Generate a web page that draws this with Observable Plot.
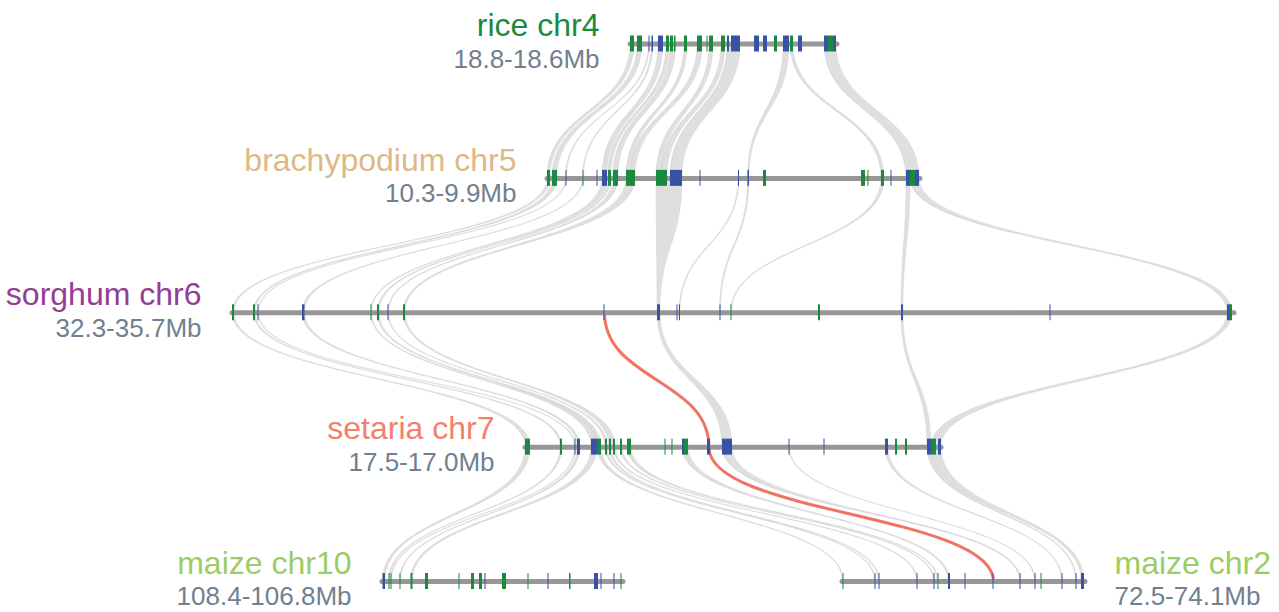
<!DOCTYPE html>
<html><head><meta charset="utf-8">
<script src="https://cdn.jsdelivr.net/npm/d3@7"></script>
<script src="https://cdn.jsdelivr.net/npm/@observablehq/plot@0.6"></script>
<style>body{margin:0;background:#fff;font-family:"Liberation Sans",Arial,sans-serif}</style>
</head><body><div id="chart"></div>
<script>
// Tracks (horizontal layout units, rows top to bottom)
const trackNames  = ["rice chr4","brachypodium chr5","sorghum chr6","setaria chr7","maize chr10","maize chr2"];
const trackRanges = ["18.8-18.6Mb","10.3-9.9Mb","32.3-35.7Mb","17.5-17.0Mb","108.4-106.8Mb","72.5-74.1Mb"];
const trackRow    = [0,1,2,3,4,4];
const trackStart  = [630,547,232,525,382,842];
const trackEnd    = [837,920,1234,941,623,1085];
const trackSide   = ["left","left","left","left","left","right"];
const trackColors = ["#1b8a3e","#deb887","#933d95","#f47f6b","#9bcd62","#9bcd62"];

// Genes per track: [start, end, strand]
const riceGenes = [[630,634,"+"],[637,642,"+"],[648.5,649.5,"-"],[651.5,653,"-"],[658,663,"-"],[666,669,"+"],[670,673,"+"],[674,675.5,"+"],[684,687,"+"],[697,702,"+"],[706.5,707.5,"+"],[709,713,"+"],[721,725,"+"],[727,729,"-"],[731,740,"-"],[754,759,"-"],[763,767,"-"],[774,777,"+"],[783,789,"-"],[790,793,"+"],[798,802,"-"],[824,828,"-"],[828,833,"+"],[833,836,"-"]];
const brachyGenes = [[547,550,"+"],[552,557,"+"],[565.5,566.5,"-"],[582.5,583.5,"+"],[596.5,597.5,"-"],[602,607,"-"],[608,611,"+"],[613,618,"+"],[626,635,"+"],[656,667,"+"],[670,682,"-"],[699.5,700.5,"-"],[738,739,"-"],[747.5,749,"-"],[763,766,"+"],[861,865,"+"],[867.5,868.5,"+"],[881,884,"+"],[890.5,891.5,"-"],[906,910,"-"],[910,915,"+"],[915,919,"-"]];
const sorghumGenes = [[232,234,"+"],[253,255,"+"],[257.5,258.5,"-"],[302,304.5,"-"],[370.5,371.5,"+"],[377,379,"+"],[387.5,388.5,"-"],[403,405,"+"],[603.5,604.5,"-"],[657,660,"-"],[676.5,677.5,"-"],[679,680,"-"],[719.5,720.5,"-"],[730.5,731.5,"+"],[818,820,"+"],[901,903,"-"],[1049.5,1050.5,"-"],[1227,1229,"-"],[1229,1232,"+"]];
const setariaGenes = [[525,530,"+"],[560,562,"+"],[574.5,575.5,"-"],[577,580,"-"],[591,597,"-"],[597,601,"+"],[605,607,"+"],[609,611,"+"],[613,615,"+"],[620,622,"+"],[627,631,"+"],[664.5,665.5,"+"],[671.5,672.5,"+"],[682,684,"-"],[684,688,"+"],[707,710,"-"],[722,732,"-"],[788.5,789.5,"-"],[823.5,824.5,"-"],[885,888,"-"],[895,897,"+"],[905,907,"+"],[927,931,"-"],[931,936,"+"],[938,941,"-"]];
const maize10Genes = [[382.5,385,"-"],[388.5,389.5,"+"],[390.5,391.5,"+"],[399.5,400.5,"+"],[410.5,412.5,"+"],[425,428,"+"],[458.5,459.5,"+"],[471,474,"+"],[479,482,"+"],[484.5,485.5,"-"],[502,506,"+"],[527.5,528.5,"+"],[547.5,548.5,"-"],[569,570.5,"+"],[594,598,"-"],[600.5,601.5,"-"],[613.5,614.5,"-"],[620.5,621.5,"+"]];
const maize2Genes = [[842.5,843.5,"+"],[874.5,875.5,"-"],[878.5,879.5,"-"],[916.5,917.5,"-"],[933.5,934.5,"-"],[937.5,938.5,"+"],[948,950,"-"],[964.5,965.5,"-"],[992.5,993.5,"-"],[1019.5,1020.5,"-"],[1034.5,1035.5,"-"],[1040.5,1041.5,"+"],[1061.5,1062.5,"-"],[1075.5,1076.5,"-"],[1081,1084,"-"]];

// Synteny links between adjacent rows: [topStart, topEnd, bottomStart, bottomEnd]
const riceBrachyLinks = [[630,634,547,550],[637,642,552,557],[648.5,649.5,565.5,566.5],[651.5,653,582.5,583.5],[658,663,602,607],[666,669,608,611],[670,675.5,613,618],[684,687,626,630],[697,702,630,635],[709,713,656,661],[721,725,661,667],[727,740,670,682],[783,789,747.5,749],[790,793,881,884],[824,836,906,919]];
const brachySorghumLinks = [[547,550,232,234],[552,557,253,255],[565.5,566.5,257.5,258.5],[582.5,583.5,302,304.5],[602,607,370.5,371.5],[608,611,377,379],[613,618,387.5,388.5],[626,635,403,405],[656,682,657,660],[738,739,679,680],[747.5,749,719.5,720.5],[881,884,730.5,731.5],[906,910,901,903],[910,919,1227,1232]];
const sorghumSetariaLinks = [[232,234,525,530],[253,255,560,562],[257.5,258.5,574.5,575.5],[302,304.5,577,580],[370.5,371.5,591,597],[377,379,597,601],[387.5,388.5,605,607],[403,405,609,615],[657,660,722,732],[901,903,927,931],[1227,1232,931,941]];
const setariaMaizeLinks = [[525,530,382.5,385],[560,562,388.5,389.5],[574.5,575.5,390.5,391.5],[577,580,399.5,400.5],[591,597,410.5,412.5],[597,601,842.5,843.5],[605,607,874.5,875.5],[609,611,878.5,879.5],[613,615,916.5,917.5],[620,622,933.5,934.5],[627,631,937.5,938.5],[682,688,948,950],[722,732,1019.5,1021],[788.5,789.5,1034.5,1035.5],[885,888,1061.5,1062.5],[927,931,1075.5,1076.5],[931,941,1081,1084]];
// Highlighted chain (sorghum -> setaria -> maize chr2)
const highlightLinks = [[2,603.5,604.5,707,710],[3,707,710,992.5,993.5]];

const geneSets = [riceGenes, brachyGenes, sorghumGenes, setariaGenes, maize10Genes, maize2Genes];
const genes = geneSets.flatMap((g, t) => g.map(([s, e, strand]) => ({row: trackRow[t], s, e, strand})));
const tracks = trackNames.map((name, i) => ({name, range: trackRanges[i], row: trackRow[i], start: trackStart[i], end: trackEnd[i], side: trackSide[i], color: trackColors[i]}));

const linkSets = [riceBrachyLinks, brachySorghumLinks, sorghumSetariaLinks, setariaMaizeLinks];
const linkRows = [];
linkSets.forEach((set, r) => set.forEach(([a1, a2, b1, b2], k) => {
  const id = r + "-" + k;
  linkRows.push({id, y: r, x1: a1, x2: a2}, {id, y: r + 1, x1: b1, x2: b2});
}));
const hlRows = [];
highlightLinks.forEach(([r, a1, a2, b1, b2], k) => {
  hlRows.push({id: k, y: r, x: (a1 + a2) / 2}, {id: k, y: r + 1, x: (b1 + b2) / 2});
});

const font = "'Liberation Sans', Arial, Helvetica, sans-serif";
const textMarks = tracks.flatMap(t => [
  Plot.text([t], {x: d => d.side === "left" ? d.start : d.end, y: "row", text: "name",
    dx: t.side === "left" ? -31 : 29, dy: -18, textAnchor: t.side === "left" ? "end" : "start",
    fill: t.color, fontSize: 32, fontFamily: font}),
  Plot.text([t], {x: d => d.side === "left" ? d.start : d.end, y: "row", text: "range",
    dx: t.side === "left" ? -31 : 29, dy: 15.5, textAnchor: t.side === "left" ? "end" : "start",
    fill: "#708090", fontSize: 26, fontFamily: font})
]);

const chart = Plot.plot({
  width: 1279, height: 612, margin: 0,
  x: {domain: [0, 1279], range: [0, 1279], axis: null},
  y: {domain: [0, 4], range: [43.5, 581], axis: null},
  color: {domain: ["+", "-"], range: ["#1b8a3e", "#3953a4"]},
  style: {background: "white", fontFamily: font},
  marks: [
    Plot.areaX(linkRows, {y: "y", x1: "x1", x2: "x2", z: "id", curve: "bump-y",
      fill: "#c9c9c9", fillOpacity: 0.6, stroke: "#c9c9c9", strokeOpacity: 0.55, strokeWidth: 0.6}),
    Plot.line(hlRows, {x: "x", y: "y", z: "id", curve: "bump-y", stroke: "#f07464", strokeWidth: 3}),
    Plot.ruleY(tracks, {y: "row", x1: "start", x2: "end", stroke: "#979797", strokeWidth: 5, strokeLinecap: "round"}),
    Plot.rect(genes, {x1: "s", x2: "e", y1: "row", y2: "row", insetTop: -8, insetBottom: -8, fill: "strand"}),
    ...textMarks
  ]
});
document.getElementById("chart").appendChild(chart);
</script>
</body></html>
